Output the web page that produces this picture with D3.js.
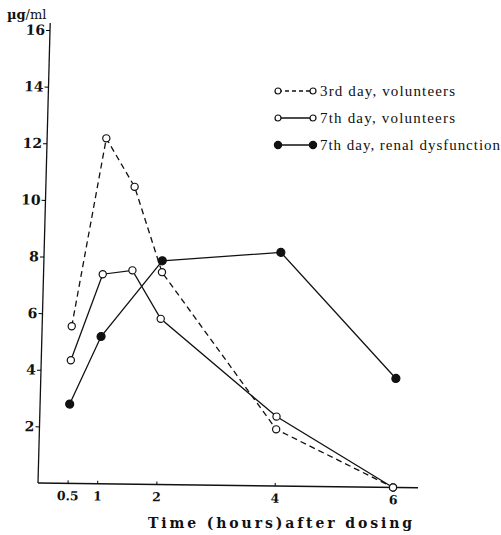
<!DOCTYPE html>
<html>
<head>
<meta charset="utf-8">
<script src="https://cdn.jsdelivr.net/npm/d3@7"></script>
<style>
  body { margin: 0; background: #fff; }
  svg { display: block; }
  .tick text { font-family: "DejaVu Serif", serif; font-weight: bold; }
</style>
</head>
<body>
<svg width="501" height="535"></svg>
<script>
// data
const timesVol = [0.5, 1, 1.5, 2, 4, 6];
const day3Volunteers = [5.55, 12.2, 10.5, 7.5, 2.0, 0];
const day7Volunteers = [4.35, 7.4, 7.55, 5.85, 2.45, 0];
const timesRenal = [0.5, 1, 2, 4, 6];
const day7Renal = [2.8, 5.2, 7.9, 8.25, 3.85];
const xTicks = [0.5, 1, 2, 4, 6];
const yTicks = [2, 4, 6, 8, 10, 12, 14, 16];
const legendLabels = ["3rd day, volunteers", "7th day, volunteers", "7th day, renal dysfunction"];

const svg = d3.select("svg");

const x = d3.scaleLinear().domain([0, 6]).range([0, 355]);
const y = d3.scaleLinear().domain([0, 16]).range([0, -453]);

// the scanned figure is slightly skewed
const plot = svg.append("g")
  .attr("transform", "matrix(1,0.0125,-0.0265,1,38,483)");

// axis lines (run a little past the domain)
plot.append("line")
  .attr("x1", 0).attr("y1", 0).attr("x2", 0).attr("y2", -460)
  .attr("stroke", "#111").attr("stroke-width", 1.3);
plot.append("line")
  .attr("x1", 0).attr("y1", 0).attr("x2", 380).attr("y2", 0)
  .attr("stroke", "#111").attr("stroke-width", 1.6);

const yAxis = plot.append("g")
  .call(d3.axisLeft(y).tickValues(yTicks).tickSizeInner(4).tickSizeOuter(0).tickPadding(1));
yAxis.select(".domain").remove();
yAxis.selectAll("text").style("font-size", "14px").attr("fill", "#111");

const xAxis = plot.append("g")
  .call(d3.axisBottom(x).tickValues(xTicks).tickSizeInner(-3).tickSizeOuter(0).tickPadding(8)
    .tickFormat(d => d));
xAxis.select(".domain").remove();
xAxis.selectAll("text").style("font-size", "12.5px").attr("fill", "#111");

const line = d3.line().x(d => x(d[0])).y(d => y(d[1]));

const series = [
  { times: timesVol, values: day3Volunteers, dash: "6,4", fill: "#fff" },
  { times: timesVol, values: day7Volunteers, dash: null, fill: "#fff" },
  { times: timesRenal, values: day7Renal, dash: null, fill: "#111" }
];

series.forEach(s => {
  const pts = s.times.map((t, i) => [t, s.values[i]]);
  plot.append("path")
    .attr("d", line(pts))
    .attr("fill", "none")
    .attr("stroke", "#111")
    .attr("stroke-width", 1.3)
    .attr("stroke-dasharray", s.dash);
  plot.selectAll(null)
    .data(pts)
    .enter()
    .append("circle")
    .attr("cx", d => x(d[0]))
    .attr("cy", d => y(d[1]))
    .attr("r", s.fill === "#fff" ? 3.6 : 4)
    .attr("fill", s.fill)
    .attr("stroke", "#111")
    .attr("stroke-width", 1.2);
});

// y unit label
const unit = svg.append("text")
  .attr("x", 7).attr("y", 19)
  .style("font-family", "DejaVu Serif, serif")
  .style("font-size", "13px")
  .attr("fill", "#111");
unit.append("tspan").text("µg").style("font-weight", "bold");
unit.append("tspan").text("/ml");

// x title
svg.append("text")
  .attr("x", 148).attr("y", 528)
  .attr("textLength", 264)
  .attr("lengthAdjust", "spacing")
  .style("font-family", "DejaVu Serif, serif")
  .style("font-size", "14px")
  .style("font-weight", "bold")
  .attr("fill", "#111")
  .text("Time (hours)after dosing");

// legend
const legend = svg.append("g");
const legendY = [91, 118, 145];
const legendLen = [135, 135, 180];
legendLabels.forEach((label, i) => {
  const s = series[i];
  const g = legend.append("g").attr("transform", `translate(0,${legendY[i]})`);
  g.append("line")
    .attr("x1", 278).attr("x2", 313).attr("y1", 0).attr("y2", 0)
    .attr("stroke", "#111").attr("stroke-width", 1.3)
    .attr("stroke-dasharray", i === 0 ? "4,3" : null);
  [278, 313].forEach(cx => {
    g.append("circle")
      .attr("cx", cx).attr("cy", 0)
      .attr("r", s.fill === "#fff" ? 3 : 3.6)
      .attr("fill", s.fill)
      .attr("stroke", "#111")
      .attr("stroke-width", 1.2);
  });
  g.append("text")
    .attr("x", 320).attr("y", 5)
    .attr("textLength", legendLen[i])
    .attr("lengthAdjust", "spacing")
    .style("font-family", "Liberation Serif, serif")
    .style("font-size", "15px")
    .attr("fill", "#111")
    .text(label);
});
</script>
</body>
</html>
